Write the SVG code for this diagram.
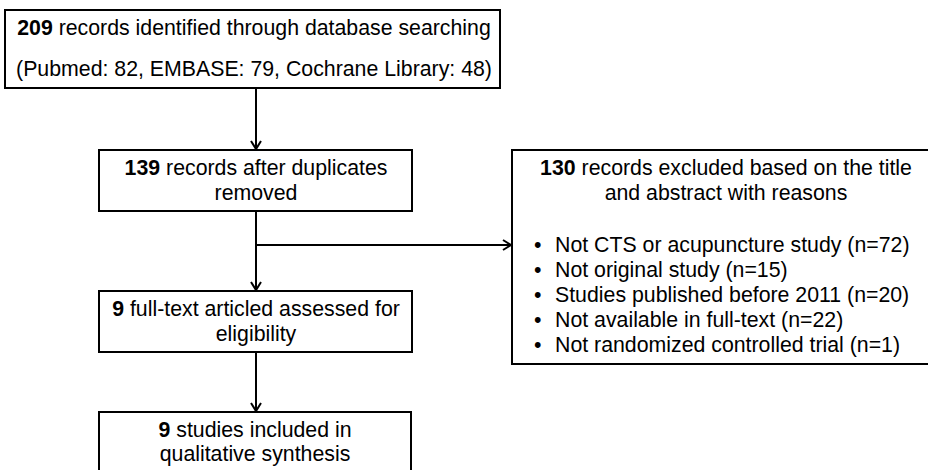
<svg xmlns="http://www.w3.org/2000/svg" width="928" height="470" viewBox="0 0 928 470">
<style>
.box{fill:#fff;stroke:#000;stroke-width:2}
.t{font-family:"Liberation Sans",Arial,sans-serif;font-size:21.3px;fill:#000}
.c{text-anchor:middle}
.b{font-weight:bold}
.con{stroke:#000;stroke-width:2;fill:none}
</style>
<defs>
<marker id="ah" markerUnits="userSpaceOnUse" markerWidth="14" markerHeight="14" viewBox="-10 -7 12 14" refX="0" refY="0" orient="auto">
<path d="M-8,-5 L0,0 L-8,5" fill="none" stroke="#000" stroke-width="2"/>
</marker>
</defs>
<rect width="928" height="470" fill="#fff"/>
<g id="connectors">
<line class="con" x1="256" y1="89" x2="256" y2="149" marker-end="url(#ah)"/>
<line class="con" x1="256" y1="212" x2="256" y2="290" marker-end="url(#ah)"/>
<line class="con" x1="256" y1="245" x2="511" y2="245" marker-end="url(#ah)"/>
<line class="con" x1="256" y1="353" x2="256" y2="411" marker-end="url(#ah)"/>
</g>
<g id="identified">
<rect class="box" x="5" y="10" width="495" height="78"/>
<text class="t c" x="254" y="35"><tspan class="b">209</tspan> records identified through database searching</text>
<text class="t c" x="254" y="76">(Pubmed: 82, EMBASE: 79, Cochrane Library: 48)</text>
</g>
<g id="duplicates">
<rect class="box" x="99" y="150" width="313" height="61"/>
<text class="t c" x="256" y="175"><tspan class="b">139</tspan> records after duplicates</text>
<text class="t c" x="256" y="200">removed</text>
</g>
<g id="excluded">
<rect class="box" x="512" y="150" width="420" height="214"/>
<text class="t c" x="726" y="175"><tspan class="b">130</tspan> records excluded based on the title</text>
<text class="t c" x="726" y="200">and abstract with reasons</text>
<text class="t" x="534" y="252">•<tspan x="555">Not CTS or acupuncture study (n=72)</tspan></text>
<text class="t" x="534" y="277">•<tspan x="555">Not original study (n=15)</tspan></text>
<text class="t" x="534" y="302">•<tspan x="555">Studies published before 2011 (n=20)</tspan></text>
<text class="t" x="534" y="327">•<tspan x="555">Not available in full-text (n=22)</tspan></text>
<text class="t" x="534" y="352">•<tspan x="555">Not randomized controlled trial (n=1)</tspan></text>
</g>
<g id="fulltext">
<rect class="box" x="99" y="291" width="313" height="61"/>
<text class="t c" x="256" y="316"><tspan class="b">9</tspan> full-text articled assessed for</text>
<text class="t c" x="256" y="341">eligibility</text>
</g>
<g id="included">
<rect class="box" x="99" y="412" width="312" height="70"/>
<text class="t c" x="255" y="437"><tspan class="b">9</tspan> studies included in</text>
<text class="t c" x="255" y="461">qualitative synthesis</text>
</g>
</svg>
